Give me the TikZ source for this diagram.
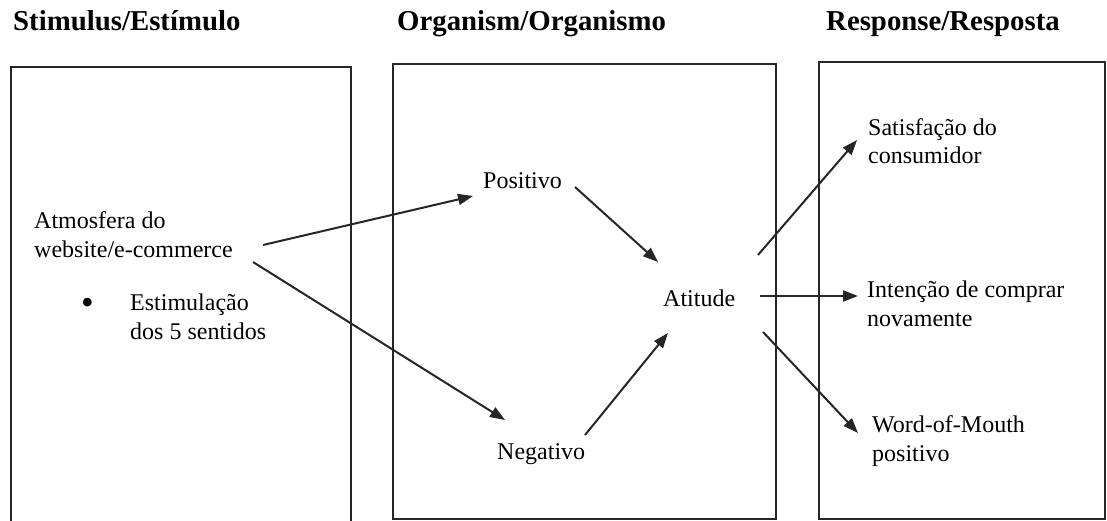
\documentclass[tikz,border=0pt]{standalone}
\usepackage{fontspec}
\setmainfont{Liberation Serif}
\usetikzlibrary{arrows.meta}

\tikzset{
  panel/.style={draw=black!85, line width=1.8pt},
  title/.style={anchor=base west, inner sep=0pt, font=\fontsize{28.8}{34}\selectfont\bfseries},
  label/.style={anchor=base west, inner sep=0pt, align=left, font=\fontsize{24}{28.5}\selectfont},
  link/.style={draw=black!85, line width=2pt, -{Triangle[length=15pt,width=11pt]}},
}

\begin{document}
\begin{tikzpicture}[x=1pt, y=-1pt]
  \useasboundingbox (0,0) rectangle (1107,521);
  \clip (0,0) rectangle (1107,521);

  % column headings
  \node[title] (hs) at (13,31) {Stimulus/Estímulo};
  \node[title] (ho) at (397,31) {Organism/Organismo};
  \node[title] (hr) at (826,31) {Response/Resposta};

  % the three panels
  \draw[panel] (11,67) rectangle (351,540);
  \draw[panel] (393,64) rectangle (776,519);
  \draw[panel] (819,62) rectangle (1105,519);

  % stimulus (multi-line labels are anchored on their last line)
  \node[label] (atm) at (34,257) {Atmosfera do\\website/e-commerce};
  \node[label, font=\fontsize{36}{40}\selectfont] (dot) at (81,314) {•};
  \node[label] (est) at (130,339) {Estimulação\\dos 5 sentidos};

  % organism
  \node[label] (pos) at (483,189) {Positivo};
  \node[label] (att) at (663,306) {Atitude};
  \node[label] (neg) at (497,459) {Negativo};

  % response
  \node[label] (sat) at (868,164) {Satisfação do\\consumidor};
  \node[label] (int) at (867,326) {Intenção de comprar\\novamente};
  \node[label] (wom) at (872,461) {Word-of-Mouth\\positivo};

  % connector ends
  \coordinate (atm-up)   at (263,245);
  \coordinate (atm-down) at (253,262);
  \coordinate (pos-in)   at (473,196);
  \coordinate (neg-in)   at (505,420);
  \coordinate (pos-out)  at (575,187);
  \coordinate (neg-out)  at (585,435);
  \coordinate (att-top)  at (658,262);
  \coordinate (att-bot)  at (668,333);
  \coordinate (att-ne)   at (758,255);
  \coordinate (att-e)    at (760,296);
  \coordinate (att-se)   at (763,332);
  \coordinate (sat-in)   at (857,140);
  \coordinate (int-in)   at (858,296);
  \coordinate (wom-in)   at (858,433);

  % connectors
  \draw[link] (atm-up) -- (pos-in);
  \draw[link] (atm-down) -- (neg-in);
  \draw[link] (pos-out) -- (att-top);
  \draw[link] (neg-out) -- (att-bot);
  \draw[link] (att-ne) -- (sat-in);
  \draw[link] (att-e) -- (int-in);
  \draw[link] (att-se) -- (wom-in);
\end{tikzpicture}
\end{document}
